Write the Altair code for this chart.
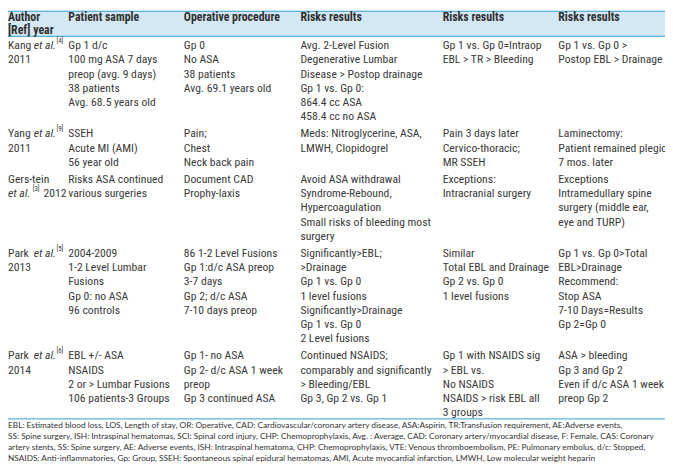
import altair as alt
import pandas as pd

# ---------------- data (table content) ----------------
HEADER_AUTHOR = ["Author", "[Ref] year"]
HEADER_TITLES = ["Patient sample", "Operative procedure", "Risks results",
                 "Risks results", "Risks results"]

AUTHOR_NAMES = ["Kang", "Yang", "Gers-tein", "Park", "Park"]
AUTHOR_REFS = ["[4]", "[9]", "[3]", "[5]", "[6]"]
AUTHOR_YEARS = ["2011", "2011", "2012", "2013", "2014"]

PATIENT_SAMPLE = [
    ["Gp 1 d/c", "100 mg ASA 7 days", "preop (avg. 9 days)", "38 patients", "Avg. 68.5 years old"],
    ["SSEH", "Acute MI (AMI)", "56 year old"],
    ["Risks ASA continued", "various surgeries"],
    ["2004-2009", "1-2 Level Lumbar", "Fusions", "Gp 0: no ASA", "96 controls"],
    ["EBL +/- ASA", "NSAIDS", "2 or > Lumbar Fusions", "106 patients-3 Groups"],
]
OPERATIVE = [
    ["Gp 0", "No ASA", "38 patients", "Avg. 69.1 years old"],
    ["Pain;", "Chest", "Neck back pain"],
    ["Document CAD", "Prophy-laxis"],
    ["86 1-2 Level Fusions", "Gp 1:d/c ASA preop", "3-7 days", "Gp 2; d/c ASA", "7-10 days preop"],
    ["Gp 1- no ASA", "Gp 2- d/c ASA 1 week", "preop", "Gp 3 continued ASA"],
]
RISKS_1 = [
    ["Avg. 2-Level Fusion", "Degenerative Lumbar", "Disease > Postop drainage", "Gp 1 vs. Gp 0:",
     "864.4 cc ASA", "458.4 cc no ASA"],
    ["Meds: Nitroglycerine, ASA,", "LMWH, Clopidogrel"],
    ["Avoid ASA withdrawal", "Syndrome-Rebound,", "Hypercoagulation", "Small risks of bleeding most", "surgery"],
    ["Significantly>EBL;", ">Drainage", "Gp 1 vs. Gp 0", "1 level fusions", "Significantly>Drainage",
     "Gp 1 vs. Gp 0", "2 Level fusions"],
    ["Continued NSAIDS;", "comparably and significantly", "> Bleeding/EBL", "Gp 3, Gp 2 vs. Gp 1"],
]
RISKS_2 = [
    ["Gp 1 vs. Gp 0=Intraop", "EBL > TR > Bleeding"],
    ["Pain 3 days later", "Cervico-thoracic;", "MR SSEH"],
    ["Exceptions:", "Intracranial surgery"],
    ["Similar", "Total EBL and Drainage", "Gp 2 vs. Gp 0", "1 level fusions"],
    ["Gp 1 with NSAIDS sig", "> EBL vs.", "No NSAIDS", "NSAIDS > risk EBL all", "3 groups"],
]
RISKS_3 = [
    ["Gp 1 vs. Gp 0 >", "Postop EBL > Drainage"],
    ["Laminectomy:", "Patient remained plegic", "7 mos. later"],
    ["Exceptions", "Intramedullary spine", "surgery (middle ear,", "eye and TURP)"],
    ["Gp 1 vs. Gp 0>Total", "EBL>Drainage", "Recommend:", "Stop ASA", "7-10 Days=Results", "Gp 2=Gp 0"],
    ["ASA > bleeding", "Gp 3 and Gp 2", "Even if d/c ASA 1 week", "preop Gp 2"],
]
FOOTNOTE = [
    "EBL: Estimated blood loss, LOS, Length of stay, OR: Operative, CAD: Cardiovascular/coronary artery disease, ASA:Aspirin, TR:Transfusion requirement, AE:Adverse events,",
    "SS: Spine surgery, ISH: Intraspinal hematomas, SCI: Spinal cord injury, CHP: Chemoprophylaxis, Avg. : Average, CAD: Coronary artery/myocardial disease, F: Female, CAS: Coronary",
    "artery stents, SS: Spine surgery, AE: Adverse events, ISH: Intraspinal hematoma, CHP: Chemoprophylaxis, VTE: Venous thromboembolism, PE: Pulmonary embolus, d/c: Stopped,",
    "NSAIDS: Anti-inflammatories, Gp: Group, SSEH: Spontaneous spinal epidural hematomas, AMI, Acute myocardial infarction, LMWH, Low molecular weight heparin",
]

# ---------------- layout ----------------
W, H = 665, 458
COL_X = [0, 61, 178, 296, 440, 557]
FIRST_LINE_Y = 35
LINE_H = 14.3
ROW_GAP = 3.4
HEADER_Y = [6.5, 20]
BAND_Y = [0, 26]
RULE_Y = [0.6, 26, 413]
FOOT_Y0, FOOT_DY = 419.5, 11

BODY_FONT = "Liberation Sans Narrow, Roboto Condensed, Arial Narrow, sans-serif"
FOOT_FONT = "Lato, Open Sans, sans-serif"
TEXT_COLOR = "#3a3a3a"
LINE_COLOR = "#5cb3e0"
BAND_COLOR = "#d3e7f5"

content_cols = [PATIENT_SAMPLE, OPERATIVE, RISKS_1, RISKS_2, RISKS_3]

# row starting positions
row_start = []
y = FIRST_LINE_Y
for r in range(len(AUTHOR_NAMES)):
    row_start.append(y)
    nlines = max(2, *[len(c[r]) for c in content_cols])
    y += nlines * LINE_H + ROW_GAP

body = []
for ci, col in enumerate(content_cols):
    for r, lines in enumerate(col):
        for li, t in enumerate(lines):
            body.append({"text": t, "x": COL_X[ci + 1], "y": row_start[r] + li * LINE_H})
body_df = pd.DataFrame(body)

# author pieces
author = []
for r, (name, ref, yr) in enumerate(zip(AUTHOR_NAMES, AUTHOR_REFS, AUTHOR_YEARS)):
    y0 = row_start[r]
    y1 = y0 + LINE_H
    if "-" in name:  # long name: et al. wraps to next line
        author += [
            {"text": name, "x": 0, "y": y0, "piece": "plain"},
            {"text": "et al.", "x": 0, "y": y1, "piece": "ital0"},
            {"text": ref, "x": 0, "y": y1, "piece": "sup0"},
            {"text": yr, "x": 0, "y": y1, "piece": "year_after"},
        ]
    else:
        author += [
            {"text": name, "x": 0, "y": y0, "piece": "plain"},
            {"text": "et al.", "x": 0, "y": y0, "piece": "ital1"},
            {"text": ref, "x": 0, "y": y0, "piece": "sup1"},
            {"text": yr, "x": 0, "y": y1, "piece": "plain"},
        ]
author_df = pd.DataFrame(author)

header = [{"text": t, "x": 0, "y": HEADER_Y[i]} for i, t in enumerate(HEADER_AUTHOR)]
header += [{"text": t, "x": COL_X[i + 1], "y": HEADER_Y[0]} for i, t in enumerate(HEADER_TITLES)]
header_df = pd.DataFrame(header)

foot_df = pd.DataFrame([{"text": t, "x": 0, "y": FOOT_Y0 + i * FOOT_DY} for i, t in enumerate(FOOTNOTE)])
rule_df = pd.DataFrame({"y": RULE_Y})
band_df = pd.DataFrame({"y": [BAND_Y[0]], "y2": [BAND_Y[1]]})

xs = alt.Scale(domain=[0, W], range=[0, W])
ys = alt.Scale(domain=[0, H], range=[0, H])
X = alt.X("x:Q", scale=xs, axis=None)
Y = alt.Y("y:Q", scale=ys, axis=None)

band = alt.Chart(band_df).mark_rect(color=BAND_COLOR).encode(
    x=alt.value(0), x2=alt.value(W), y=Y, y2="y2:Q")
rules = alt.Chart(rule_df).mark_rule(color=LINE_COLOR, strokeWidth=1.2).encode(
    x=alt.value(0), x2=alt.value(W), y=Y)

def txt(df, **kw):
    base = dict(align="left", baseline="middle", font=BODY_FONT, fontSize=11.8, color=TEXT_COLOR)
    base.update(kw)
    return alt.Chart(df).mark_text(**base).encode(x=X, y=Y, text="text:N")

header_t = txt(header_df, fontWeight="bold", color="#303030", fontSize=12)
body_t = txt(body_df)
pieces = {
    "plain": dict(),
    "ital1": dict(fontStyle="italic", dx=26),
    "sup1": dict(fontSize=7, dx=49, dy=-4),
    "ital0": dict(fontStyle="italic"),
    "sup0": dict(fontSize=7, dx=25, dy=-4),
    "year_after": dict(dx=36),
}
author_layers = [txt(author_df[author_df.piece == p], **kw) for p, kw in pieces.items()]
foot_t = txt(foot_df, font=FOOT_FONT, fontSize=8.4, color="#333333")

chart = alt.layer(band, rules, header_t, body_t, *author_layers, foot_t).properties(
    width=W, height=H, padding=0, autosize=alt.AutoSizeParams(type="none")
).configure_view(stroke=None)

chart.save("out.html", embed_options={"renderer": "svg", "actions": False})
